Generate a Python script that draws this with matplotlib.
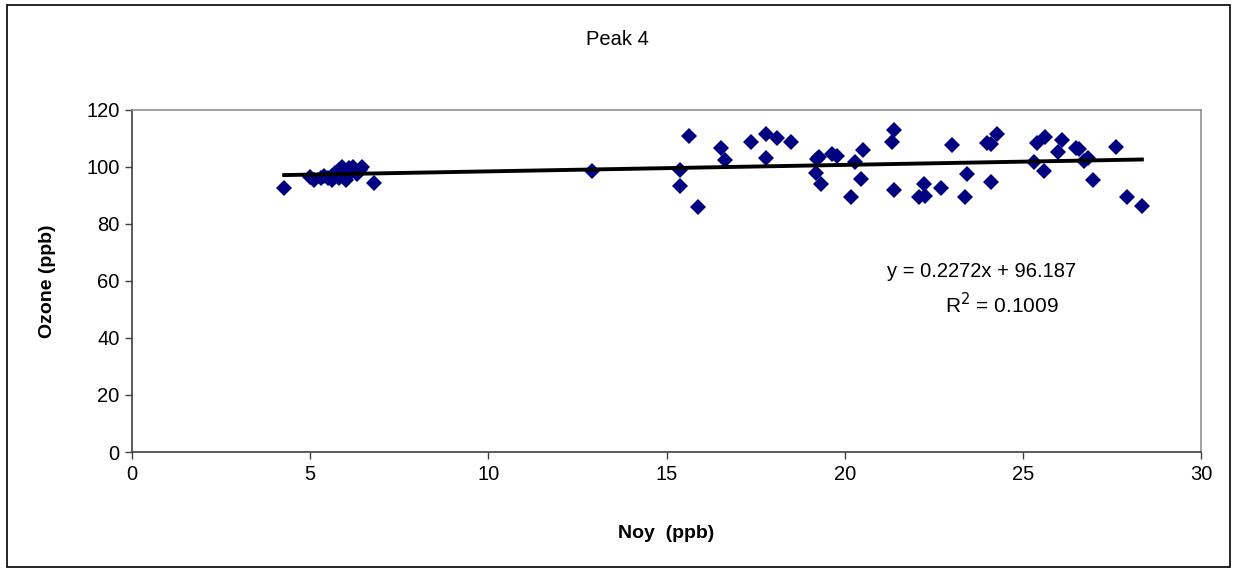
import matplotlib
matplotlib.use("Agg")
import matplotlib.pyplot as plt
from matplotlib.patches import Rectangle

plt.rcParams['font.family'] = ['Liberation Sans', 'DejaVu Sans']

# Noy (ppb) vs Ozone (ppb)
noy = [4.27, 5.0, 5.1, 5.3, 5.4, 5.5, 5.6, 5.6, 5.7, 5.8, 5.8, 5.9, 5.9, 6.0, 6.0,
       6.1, 6.1, 6.2, 6.3, 6.4, 6.45, 6.8,
       12.91, 15.37, 15.37, 15.64, 15.87, 16.52, 16.63, 17.36, 17.78, 17.78, 18.09, 18.5,
       19.19, 19.23, 19.28, 19.34, 19.65, 19.79, 20.19, 20.29, 20.45, 20.52,
       21.34, 21.39, 21.39, 22.09, 22.23, 22.25, 22.7, 23.0, 23.37, 23.43,
       24.0, 24.1, 24.1, 24.27, 25.32, 25.41, 25.6, 25.62, 25.99, 26.09,
       26.49, 26.57, 26.71, 26.82, 26.98, 27.61, 27.92, 28.34]
ozone = [92.8, 96.5, 95.5, 96.0, 97.0, 96.0, 97.0, 95.5, 98.0, 99.0, 96.0, 100.0, 98.0, 97.0, 95.5,
         99.5, 97.5, 100.0, 97.5, 99.0, 100.0, 94.5,
         98.7, 99.0, 93.2, 110.9, 86.0, 106.5, 102.4, 108.8, 111.5, 103.0, 110.1, 108.8,
         97.9, 102.7, 103.6, 94.0, 104.5, 103.7, 89.5, 101.8, 95.9, 105.9,
         108.7, 113.0, 91.9, 89.3, 94.1, 89.9, 92.6, 107.6, 89.4, 97.7,
         108.3, 108.0, 94.6, 111.5, 101.6, 108.3, 98.5, 110.4, 105.1, 109.4,
         106.6, 106.2, 102.2, 103.1, 95.4, 107.0, 89.6, 86.4]

slope, intercept = 0.2272, 96.187
r2 = 0.1009

fig = plt.figure(figsize=(12.35, 5.71), dpi=100)
ax = fig.add_axes([0.1069, 0.2084, 0.8656, 0.599])

ax.plot(noy, ozone, linestyle='none', marker='D', markersize=8.5,
        color='#000080', markeredgewidth=0, zorder=3)

x0, x1 = min(noy), max(noy)
ax.plot([x0, x1], [slope * x0 + intercept, slope * x1 + intercept],
        color='black', linewidth=2.8, zorder=4)

ax.set_xlim(0, 30)
ax.set_ylim(0, 120)
ax.set_xticks(range(0, 31, 5))
ax.set_yticks(range(0, 121, 20))
ax.tick_params(direction='out', length=5, width=1, labelsize=14.5, color='#404040', pad=4)

for side in ['top', 'right']:
    ax.spines[side].set_color('#909090')
for side in ['left', 'bottom']:
    ax.spines[side].set_color('#404040')
for s in ax.spines.values():
    s.set_linewidth(1.2)

ax.set_xlabel('Noy  (ppb)', fontsize=14, fontweight='bold', labelpad=30)
ax.set_ylabel('Ozone (ppb)', fontsize=14, fontweight='bold', labelpad=22)

fig.text(0.5, 0.93, 'Peak 4', fontsize=14.5, ha='center', va='center')
ax.text(23.85, 63.3, f'y = {slope}x + {intercept}', fontsize=14.5, ha='center', va='center')
ax.text(24.4, 51.8, f'R$^2$ = {r2}', fontsize=15, ha='center', va='center')

fig.patches.append(Rectangle((0.0057, 0.007), 0.9903, 0.984, transform=fig.transFigure,
                             fill=False, edgecolor='black', linewidth=1.2))

fig.savefig('out.png', dpi=100)
